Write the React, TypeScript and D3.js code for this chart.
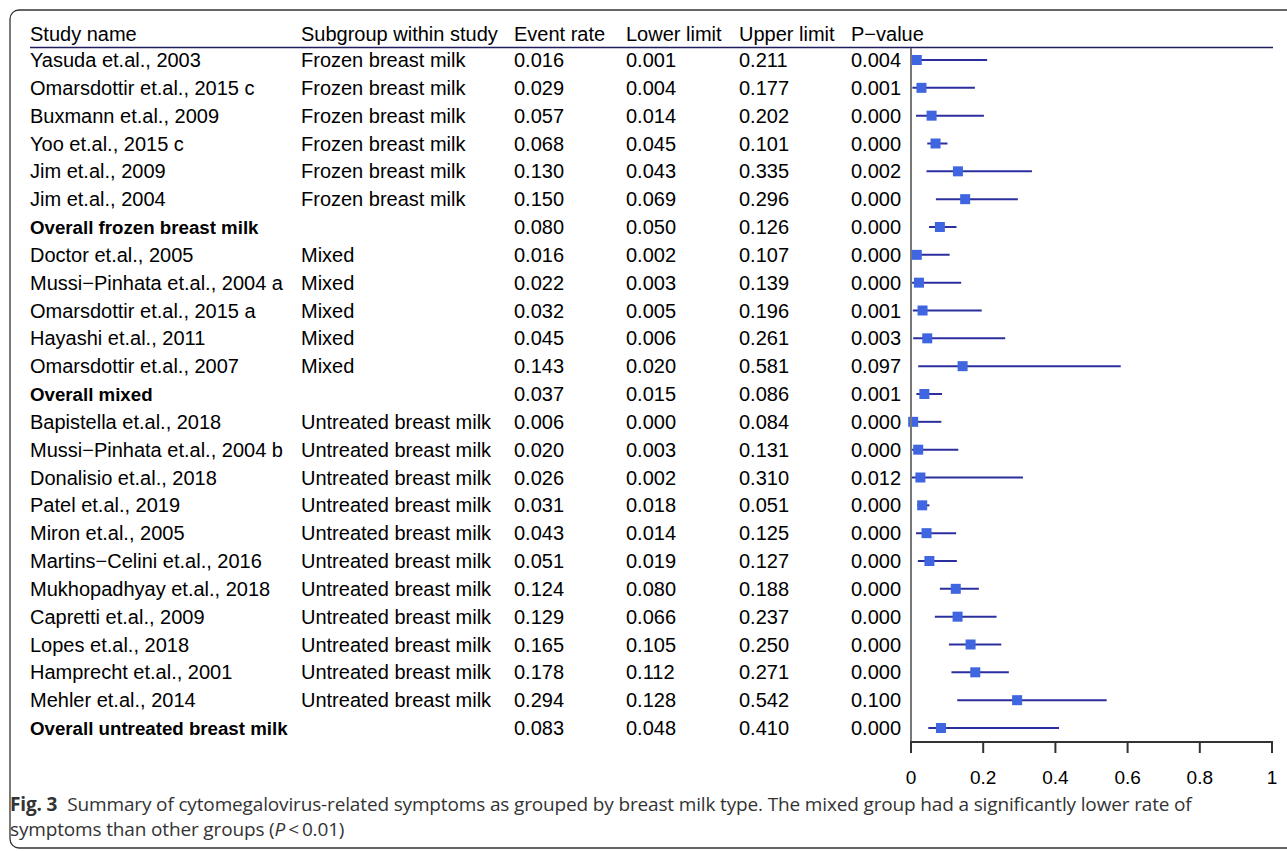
import React from "react";
import * as d3 from "d3";

const studies = [
  "Yasuda et.al., 2003",
  "Omarsdottir et.al., 2015 c",
  "Buxmann et.al., 2009",
  "Yoo et.al., 2015 c",
  "Jim et.al., 2009",
  "Jim et.al., 2004",
  "Overall frozen breast milk",
  "Doctor et.al., 2005",
  "Mussi\u2212Pinhata et.al., 2004 a",
  "Omarsdottir et.al., 2015 a",
  "Hayashi et.al., 2011",
  "Omarsdottir et.al., 2007",
  "Overall mixed",
  "Bapistella et.al., 2018",
  "Mussi\u2212Pinhata et.al., 2004 b",
  "Donalisio et.al., 2018",
  "Patel et.al., 2019",
  "Miron et.al., 2005",
  "Martins\u2212Celini et.al., 2016",
  "Mukhopadhyay et.al., 2018",
  "Capretti et.al., 2009",
  "Lopes et.al., 2018",
  "Hamprecht et.al., 2001",
  "Mehler et.al., 2014",
  "Overall untreated breast milk",
];

const subgroups = [
  "Frozen breast milk", "Frozen breast milk", "Frozen breast milk", "Frozen breast milk",
  "Frozen breast milk", "Frozen breast milk", "",
  "Mixed", "Mixed", "Mixed", "Mixed", "Mixed", "",
  "Untreated breast milk", "Untreated breast milk", "Untreated breast milk", "Untreated breast milk",
  "Untreated breast milk", "Untreated breast milk", "Untreated breast milk", "Untreated breast milk",
  "Untreated breast milk", "Untreated breast milk", "Untreated breast milk", "",
];

const eventRates = ["0.016","0.029","0.057","0.068","0.130","0.150","0.080","0.016","0.022","0.032","0.045","0.143","0.037","0.006","0.020","0.026","0.031","0.043","0.051","0.124","0.129","0.165","0.178","0.294","0.083"];
const lowerLimits = ["0.001","0.004","0.014","0.045","0.043","0.069","0.050","0.002","0.003","0.005","0.006","0.020","0.015","0.000","0.003","0.002","0.018","0.014","0.019","0.080","0.066","0.105","0.112","0.128","0.048"];
const upperLimits = ["0.211","0.177","0.202","0.101","0.335","0.296","0.126","0.107","0.139","0.196","0.261","0.581","0.086","0.084","0.131","0.310","0.051","0.125","0.127","0.188","0.237","0.250","0.271","0.542","0.410"];
const pValues = ["0.004","0.001","0.000","0.000","0.002","0.000","0.000","0.000","0.000","0.001","0.003","0.097","0.001","0.000","0.000","0.012","0.000","0.000","0.000","0.000","0.000","0.000","0.000","0.100","0.000"];

const headers = ["Study name", "Subgroup within study", "Event rate", "Lower limit", "Upper limit", "P\u2212value"];
const axisTicks = [0, 0.2, 0.4, 0.6, 0.8, 1];

export default function App() {
  const W = 1287, H = 851;
  const font = "Liberation Sans, Arial, sans-serif";
  const fs = 20;
  const colX = [30, 301, 514, 626, 739, 851];
  const x = d3.scaleLinear().domain([0, 1]).range([911, 1272]);
  const y = d3.scaleLinear().domain([0, studies.length - 1]).range([60, 728]);
  const axisY = 742;
  const lineColor = "#2b2f9e";
  const boxColor = "#3f66e0";
  const isOverall = (s: string) => s.startsWith("Overall");

  return (
    <svg width={W} height={H} style={{ position: "absolute", left: 0, top: 0, background: "#fff" }}>
      <rect x={10} y={10} width={1300} height={838} rx={9} fill="none" stroke="#333" strokeWidth={1.3} />
      {headers.map((h, i) => (
        <text key={h} x={colX[i]} y={41} fontFamily={font} fontSize={fs} fill="#000">{h}</text>
      ))}
      <line x1={30} x2={1273} y1={47.5} y2={47.5} stroke="#1f1f5f" strokeWidth={1.5} />
      {studies.map((s, i) => {
        const cy = y(i);
        const bold = isOverall(s);
        const tb = cy + 7;
        return (
          <g key={i}>
            <text x={colX[0]} y={tb} fontFamily={font} fontSize={bold ? 18.7 : fs} fontWeight={bold ? "bold" : "normal"} fill="#000">{s}</text>
            <text x={colX[1]} y={tb} fontFamily={font} fontSize={fs} fill="#000">{subgroups[i]}</text>
            <text x={colX[2]} y={tb} fontFamily={font} fontSize={fs} fill="#000">{eventRates[i]}</text>
            <text x={colX[3]} y={tb} fontFamily={font} fontSize={fs} fill="#000">{lowerLimits[i]}</text>
            <text x={colX[4]} y={tb} fontFamily={font} fontSize={fs} fill="#000">{upperLimits[i]}</text>
            <text x={colX[5]} y={tb} fontFamily={font} fontSize={fs} fill="#000">{pValues[i]}</text>
            <line x1={x(+lowerLimits[i])} x2={x(+upperLimits[i])} y1={cy} y2={cy} stroke={lineColor} strokeWidth={2} />
            <rect x={x(+eventRates[i]) - 5} y={cy - 5} width={10} height={10} fill={boxColor} />
          </g>
        );
      })}
      <line x1={x(0)} x2={x(0)} y1={48} y2={axisY} stroke="#777" strokeWidth={2} />
      <line x1={x(0) - 1} x2={x(1) + 1} y1={axisY} y2={axisY} stroke="#333" strokeWidth={2} />
      {axisTicks.map((t) => (
        <g key={t}>
          <line x1={x(t)} x2={x(t)} y1={axisY} y2={axisY + 11} stroke="#333" strokeWidth={2} />
          <text x={x(t)} y={784} textAnchor="middle" fontFamily={font} fontSize={19} fill="#000">{d3.format("")(t)}</text>
        </g>
      ))}
      <text x={10} y={811} fontFamily="Open Sans, sans-serif" fontSize={19} fill="#333" letterSpacing={-0.15}>
        <tspan fontWeight="bold">Fig. 3</tspan>
        <tspan dx={10}>Summary of cytomegalovirus-related symptoms as grouped by breast milk type. The mixed group had a significantly lower rate of</tspan>
      </text>
      <text x={10} y={836} fontFamily="Open Sans, sans-serif" fontSize={19} fill="#333" letterSpacing={-0.15}>
        symptoms than other groups (<tspan fontStyle="italic">P</tspan>{"\u2009<\u20090.01)"}
      </text>
    </svg>
  );
}
